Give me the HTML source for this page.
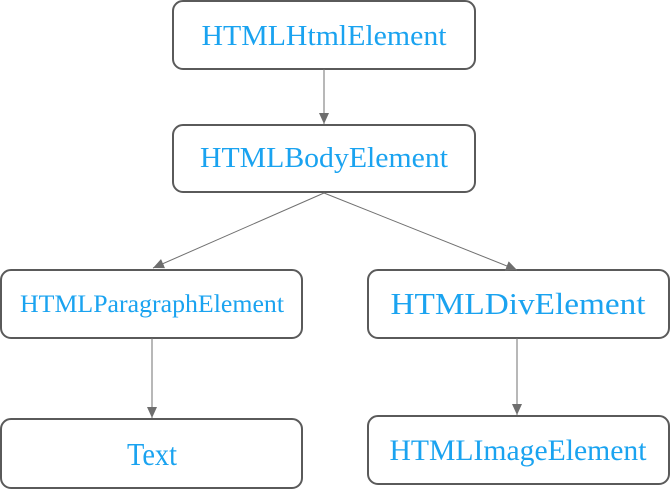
<!DOCTYPE html>
<html><head><style>
body{margin:0;background:#fff;width:671px;height:494px;overflow:hidden}
</style></head><body>
<svg width="671" height="494" xmlns="http://www.w3.org/2000/svg">
<defs><marker id="a" markerWidth="12" markerHeight="12" refX="11" refY="5" orient="auto" markerUnits="userSpaceOnUse"><path d="M0,0 L11,5 L0,10 Z" fill="#6e6e6e"/></marker></defs>
<g fill="#fff" stroke="#5a5a5a" stroke-width="2">
<rect x="173" y="1" width="302" height="68" rx="10"/>
<rect x="173" y="125" width="302" height="67" rx="10"/>
<rect x="1" y="270" width="301" height="68" rx="10"/>
<rect x="368" y="270" width="301" height="68" rx="10"/>
<rect x="1" y="419" width="301" height="69" rx="10"/>
<rect x="368" y="416" width="301" height="68" rx="10"/>
</g>
<g stroke="#707070" stroke-width="1" marker-end="url(#a)">
<line x1="324" y1="69" x2="324" y2="124"/>
<line x1="324" y1="193" x2="153" y2="268"/>
<line x1="324" y1="193" x2="517" y2="270"/>
<line x1="152" y1="338" x2="152" y2="418"/>
<line x1="517" y1="338" x2="517" y2="415"/>
</g>
<g fill="#1aa3f0" font-family="Liberation Serif, serif" text-anchor="middle">
<text x="324" y="45" font-size="29" textLength="245" lengthAdjust="spacingAndGlyphs">HTMLHtmlElement</text>
<text x="324" y="167" font-size="28" textLength="248" lengthAdjust="spacingAndGlyphs">HTMLBodyElement</text>
<text x="152" y="312" font-size="25" textLength="264" lengthAdjust="spacingAndGlyphs">HTMLParagraphElement</text>
<text x="518" y="314" font-size="31" textLength="255" lengthAdjust="spacingAndGlyphs">HTMLDivElement</text>
<text x="152" y="465" font-size="32" textLength="50" lengthAdjust="spacingAndGlyphs">Text</text>
<text x="518" y="460" font-size="30" textLength="257" lengthAdjust="spacingAndGlyphs">HTMLImageElement</text>
</g>
</svg>
</body></html>
